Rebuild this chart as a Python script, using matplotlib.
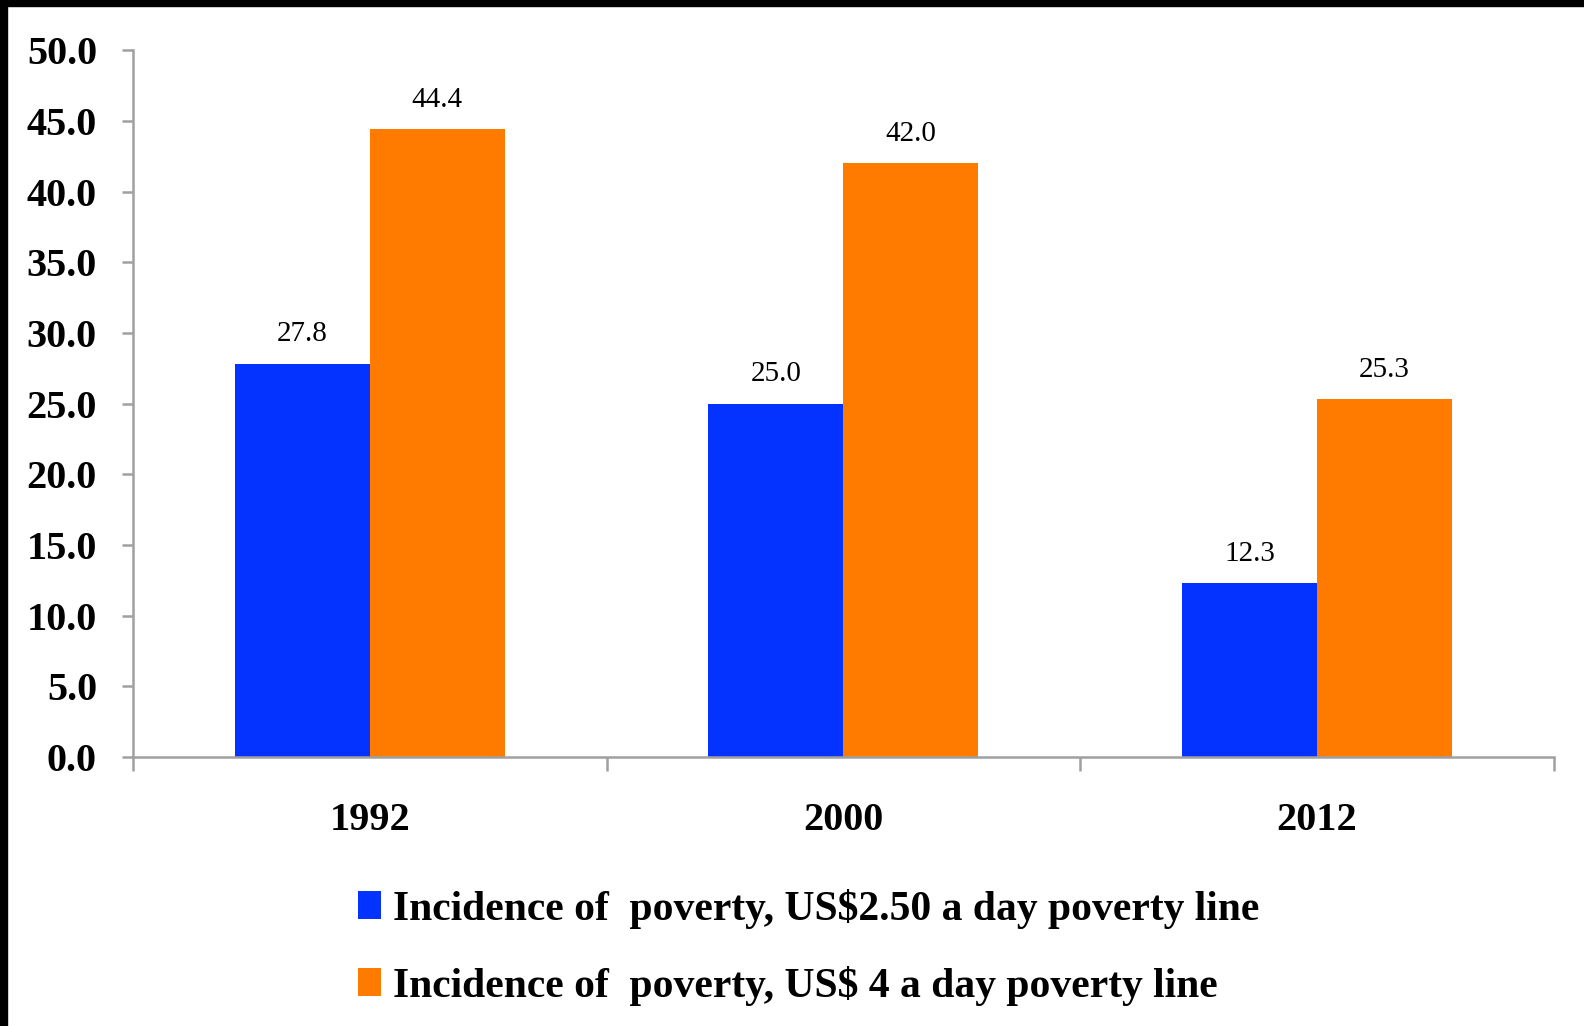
import matplotlib
matplotlib.use("Agg")
import matplotlib.pyplot as plt
from matplotlib.patches import Rectangle
import numpy as np

years = ["1992", "2000", "2012"]
line_250 = [27.8, 25.0, 12.3]
line_400 = [44.4, 42.0, 25.3]
labels = ["Incidence of  poverty, US$2.50 a day poverty line",
          "Incidence of  poverty, US$ 4 a day poverty line"]
colors = ["#0433FF", "#FF7B00"]

plt.rcParams['font.family'] = ['Liberation Serif', 'DejaVu Serif']

fig = plt.figure(figsize=(15.84, 10.26), dpi=100)
ax = fig.add_axes([0.084, 0.262, 0.897, 0.689])

x = np.arange(len(years))
w = 0.285
b1 = ax.bar(x - w / 2, line_250, w, color=colors[0], label=labels[0])
b2 = ax.bar(x + w / 2, line_400, w, color=colors[1], label=labels[1])

for bars, vals in [(b1, line_250), (b2, line_400)]:
    for rect, v in zip(bars, vals):
        ax.annotate(f"{v:.1f}", (rect.get_x() + rect.get_width() / 2, v),
                    xytext=(0, 12), textcoords="offset points",
                    ha="center", va="bottom", fontsize=21)

ax.set_xlim(-0.5, 2.5)
ax.set_ylim(0, 50)
ax.set_yticks(np.arange(0, 50.1, 5))
ax.set_yticklabels([f"{v:.1f}" for v in np.arange(0, 50.1, 5)],
                   fontsize=29, fontweight="bold")
ax.set_xticks(x)
ax.set_xticklabels(years, fontsize=29, fontweight="bold")
ax.set_xticks([-0.5, 0.5, 1.5, 2.5], minor=True)

grey = "#A0A0A0"
for s in ["top", "right"]:
    ax.spines[s].set_visible(False)
for s in ["left", "bottom"]:
    ax.spines[s].set_color(grey)
    ax.spines[s].set_linewidth(1.8)

ax.tick_params(axis="y", length=8, width=1.8, color=grey, pad=18)
ax.tick_params(axis="x", which="major", length=0, pad=32)
ax.tick_params(axis="x", which="minor", length=10, width=1.8, color=grey)

fig.legend(handles=[b1, b2], loc="upper left", bbox_to_anchor=(0.226, 0.134),
           frameon=False, prop={"family": "Liberation Serif", "weight": "bold", "size": 30},
           handlelength=0.55, handleheight=0.65, handletextpad=0.3,
           labelspacing=0.9, borderpad=0, borderaxespad=0)

# black frame fragments at top and left edge
fig.patches.append(Rectangle((0, 1 - 6 / 1026), 1, 6 / 1026, transform=fig.transFigure,
                             color="black", zorder=10))
fig.patches.append(Rectangle((0, 0), 7 / 1584, 1, transform=fig.transFigure,
                             color="black", zorder=10))

fig.savefig("out.png", dpi=100)
